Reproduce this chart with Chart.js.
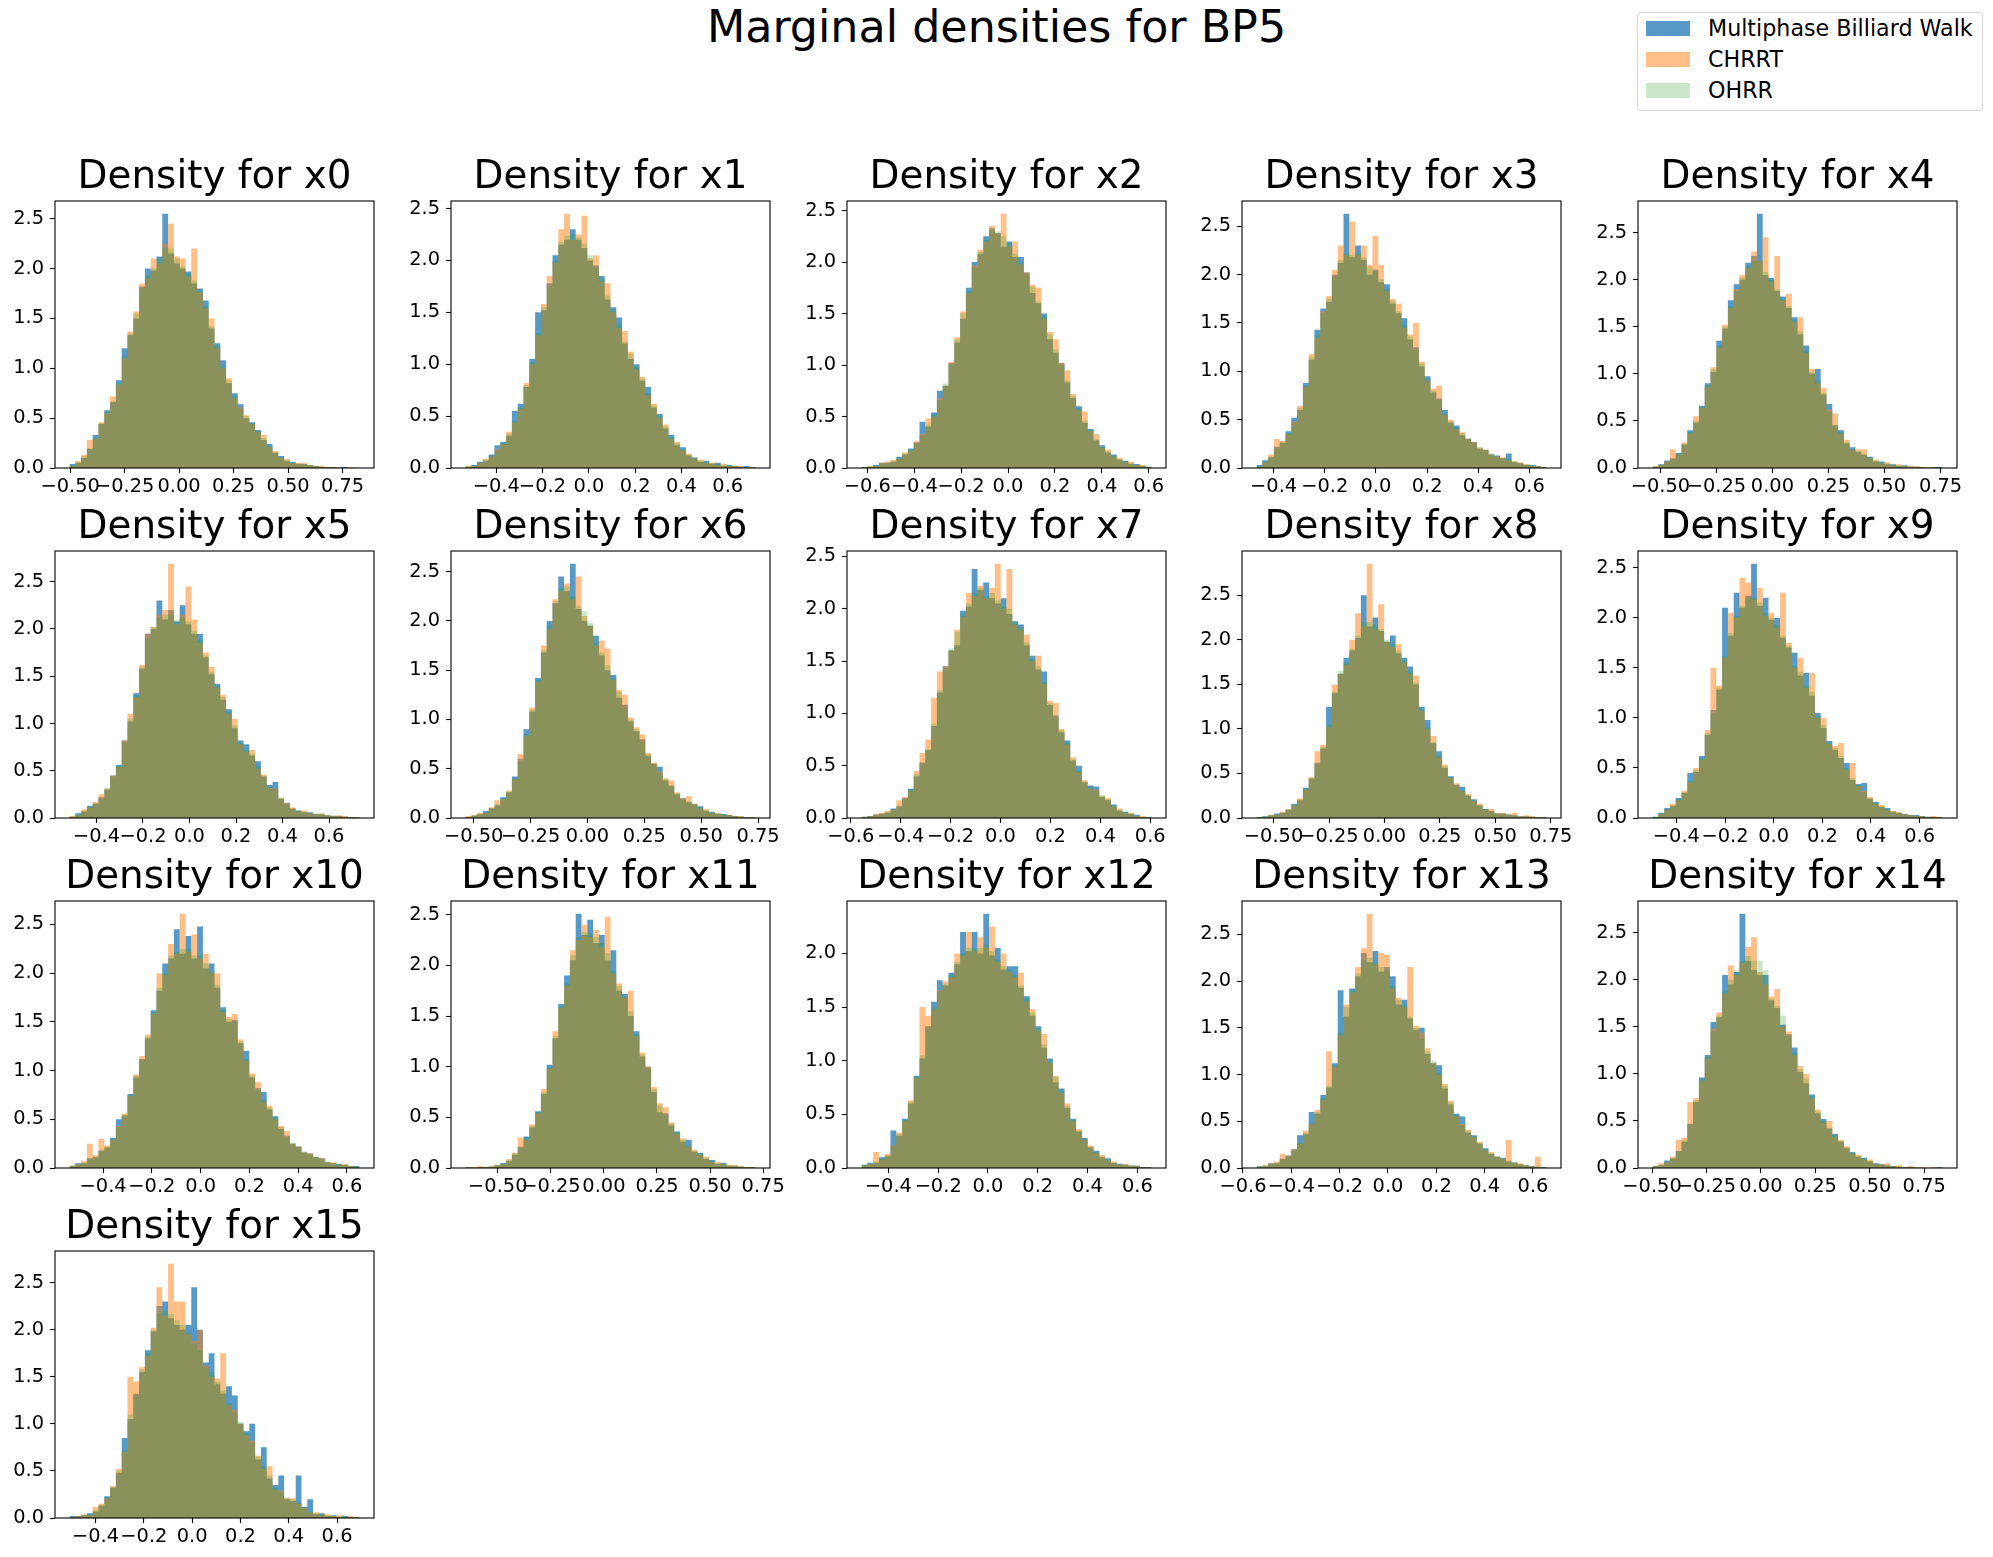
<!DOCTYPE html>
<html>
<head>
<meta charset="utf-8">
<title>Marginal densities for BP5</title>
<script src="https://cdn.jsdelivr.net/npm/chart.js@4.4.1/dist/chart.umd.min.js"></script>
<style>
  html, body { margin: 0; padding: 0; background: #fff; }
  body { position: relative; width: 1993px; height: 1557px; overflow: hidden; font-family: "DejaVu Sans", sans-serif; color: #000; }
  #suptitle { position: absolute; left: 0; top: 5px; width: 1993px; text-align: center; font-size: 44.4px; line-height: 44px; white-space: nowrap; }
  .panel { position: absolute; }
  #legend { position: absolute; left: 1637px; top: 12px; width: 344px; height: 97px; border: 1px solid #d5d5d5; border-radius: 4px; background: rgba(255,255,255,0.8); }
  .swatch { position: absolute; left: 8px; width: 44px; height: 15px; }
  .label { position: absolute; left: 70px; font-size: 22.2px; line-height: 22px; white-space: nowrap; }
</style>
</head>
<body>
<div id="suptitle"></div>
<div id="legend"></div>
<script>
// ---- data ----
const figureTitle = "Marginal densities for BP5";
const seriesNames = ["Multiphase Billiard Walk", "CHRRT", "OHRR"];
const seriesColors = ["rgba(31,119,180,0.75)", "rgba(255,127,14,0.5)", "rgba(44,160,44,0.25)"];
const panelNames = ["x0","x1","x2","x3","x4","x5","x6","x7","x8","x9","x10","x11","x12","x13","x14","x15"];

// histogram range (first bin edge, last bin edge) per panel
const binLo = [-0.503,-0.533,-0.625,-0.467,-0.535,-0.516,-0.536,-0.557,-0.577,-0.498,-0.538,-0.652,-0.508,-0.544,-0.498,-0.508];
const binHi = [0.828,0.720,0.612,0.667,0.759,0.731,0.739,0.605,0.731,0.694,0.652,0.714,0.657,0.656,0.834,0.693];

// tick labels
const ticksQuarter = [-0.5,-0.25,0,0.25,0.5,0.75];
const ticksFifthA = [-0.4,-0.2,0,0.2,0.4,0.6];
const ticksFifthB = [-0.6,-0.4,-0.2,0,0.2,0.4,0.6];
const xTicks = [ticksQuarter,ticksFifthA,ticksFifthB,ticksFifthA,ticksQuarter,ticksFifthA,ticksQuarter,ticksFifthB,
                ticksQuarter,ticksFifthA,ticksFifthA,ticksQuarter,ticksFifthA,ticksFifthB,ticksQuarter,ticksFifthA];
const xTickDecimals = [2,1,1,1,2,1,2,1,2,1,1,2,1,1,2,1];
const yTicks = [0,0.5,1,1.5,2,2.5,3];

// densities: Multiphase Billiard Walk
const mbw = [
  [0.04,0.05,0.1,0.19,0.33,0.44,0.58,0.66,0.88,1.2,1.33,1.5,1.82,2.0,1.98,2.12,2.55,2.15,2.05,2.0,1.97,1.85,1.8,1.68,1.4,1.25,1.08,0.85,0.75,0.64,0.5,0.46,0.38,0.28,0.24,0.15,0.12,0.07,0.06,0.04,0.04,0.03,0.02,0.01,0.01,0.01,0,0.01,0,0],
  [0.01,0.03,0.06,0.07,0.13,0.22,0.25,0.31,0.55,0.62,0.78,1.05,1.5,1.52,1.78,2.05,2.15,2.2,2.3,2.2,2.12,2.0,1.95,1.85,1.62,1.55,1.45,1.2,1.05,1.0,0.84,0.78,0.58,0.52,0.38,0.32,0.22,0.2,0.12,0.1,0.06,0.07,0.04,0.05,0.02,0.03,0.02,0.01,0.02,0.01],
  [0.01,0.01,0.03,0.05,0.05,0.06,0.11,0.13,0.19,0.25,0.45,0.4,0.54,0.75,0.8,1.02,1.22,1.45,1.75,2.0,2.08,2.25,2.33,2.28,2.15,2.2,2.05,2.05,1.9,1.7,1.6,1.5,1.25,1.12,1.02,0.83,0.68,0.6,0.44,0.38,0.27,0.22,0.15,0.13,0.08,0.07,0.04,0.04,0.02,0.01],
  [0.03,0.08,0.11,0.22,0.26,0.38,0.52,0.6,0.88,1.12,1.43,1.65,1.72,2.0,2.12,2.63,2.18,2.3,2.15,2.0,2.05,1.92,1.9,1.7,1.6,1.55,1.33,1.25,1.05,0.95,0.78,0.72,0.6,0.47,0.44,0.34,0.3,0.27,0.2,0.19,0.14,0.13,0.1,0.15,0.06,0.05,0.03,0.03,0.02,0.01],
  [0.01,0.04,0.08,0.1,0.16,0.25,0.4,0.48,0.66,0.9,1.02,1.35,1.48,1.78,1.95,2.0,2.18,2.25,2.7,2.05,2.02,1.88,1.82,1.7,1.6,1.42,1.3,1.0,1.05,0.78,0.68,0.45,0.4,0.26,0.22,0.17,0.14,0.12,0.07,0.07,0.04,0.04,0.02,0.03,0.01,0.01,0.01,0,0.01,0.01],
  [0.01,0.05,0.07,0.13,0.15,0.22,0.3,0.45,0.56,0.82,1.02,1.32,1.58,1.95,2.0,2.3,2.1,2.2,2.08,2.25,2.05,1.95,1.95,1.7,1.52,1.42,1.25,1.15,0.95,0.82,0.78,0.66,0.6,0.44,0.35,0.38,0.2,0.16,0.1,0.08,0.06,0.06,0.04,0.04,0.03,0.02,0.02,0.01,0.01,0.01],
  [0.01,0.02,0.04,0.07,0.1,0.13,0.21,0.26,0.42,0.6,0.9,1.08,1.42,1.68,2.0,2.18,2.45,2.3,2.58,2.12,2.0,1.95,1.85,1.65,1.5,1.45,1.22,1.15,0.98,0.88,0.8,0.63,0.55,0.52,0.38,0.33,0.24,0.2,0.16,0.14,0.12,0.07,0.06,0.04,0.04,0.03,0.02,0.01,0.01,0.01],
  [0.01,0.02,0.03,0.04,0.05,0.09,0.11,0.19,0.28,0.4,0.53,0.65,0.88,1.2,1.45,1.6,1.65,1.98,2.02,2.38,2.18,2.25,2.1,2.05,2.1,1.95,1.88,1.85,1.65,1.55,1.42,1.4,1.08,0.98,0.82,0.74,0.55,0.5,0.34,0.31,0.3,0.2,0.17,0.13,0.07,0.06,0.04,0.03,0.01,0.01],
  [0.01,0.02,0.03,0.05,0.06,0.09,0.16,0.2,0.34,0.44,0.62,0.78,1.25,1.4,1.62,1.8,1.88,2.02,2.5,2.15,2.25,2.1,1.98,2.05,1.85,1.8,1.7,1.5,1.25,1.1,0.84,0.75,0.56,0.47,0.37,0.35,0.25,0.21,0.14,0.1,0.08,0.05,0.05,0.04,0.03,0.02,0.02,0.01,0.01,0.01],
  [0.01,0.05,0.1,0.12,0.2,0.25,0.45,0.46,0.62,0.83,1.08,1.28,2.1,1.82,2.25,2.1,2.22,2.54,2.12,2.2,1.98,2.0,1.8,1.7,1.65,1.42,1.45,1.22,1.05,0.9,0.77,0.68,0.6,0.55,0.38,0.34,0.35,0.19,0.16,0.11,0.1,0.06,0.05,0.04,0.03,0.03,0.02,0.01,0.01,0.01],
  [0.02,0.05,0.05,0.1,0.11,0.18,0.21,0.31,0.5,0.54,0.76,0.93,1.12,1.33,1.62,1.82,2.1,2.15,2.45,2.2,2.38,2.15,2.48,2.05,2.1,1.85,1.65,1.5,1.52,1.28,1.2,0.93,0.82,0.78,0.6,0.53,0.4,0.33,0.25,0.22,0.16,0.15,0.11,0.1,0.06,0.05,0.04,0.03,0.02,0.02],
  [0.01,0,0.01,0.01,0.01,0.03,0.05,0.07,0.13,0.21,0.31,0.4,0.56,0.73,1.02,1.28,1.62,1.9,2.05,2.51,2.3,2.45,2.22,2.3,2.05,2.15,1.75,1.72,1.5,1.35,1.1,1.0,0.75,0.55,0.54,0.42,0.36,0.26,0.28,0.16,0.15,0.09,0.08,0.04,0.05,0.02,0.02,0.01,0.01,0.01],
  [0.03,0.05,0.05,0.1,0.11,0.35,0.3,0.46,0.6,0.86,1.02,1.32,1.55,1.75,1.7,1.82,1.9,2.2,2.02,2.2,2.0,2.37,1.98,2.05,1.85,1.88,1.88,1.68,1.6,1.42,1.32,1.12,1.02,0.8,0.74,0.56,0.46,0.34,0.28,0.19,0.16,0.1,0.09,0.05,0.04,0.03,0.02,0.02,0.01,0.01],
  [0.02,0.02,0.05,0.05,0.1,0.13,0.2,0.35,0.36,0.6,0.58,0.78,0.86,1.12,1.9,1.62,1.92,2.05,2.3,2.2,2.32,2.1,2.15,2.05,1.75,1.8,1.6,1.48,1.5,1.22,1.12,1.1,0.85,0.68,0.58,0.55,0.38,0.35,0.26,0.21,0.15,0.12,0.11,0.07,0.06,0.04,0.03,0.02,0.01,0.01],
  [0.02,0.03,0.08,0.1,0.18,0.28,0.47,0.7,0.96,1.2,1.55,1.6,2.05,1.95,2.08,2.7,2.2,2.1,2.05,2.05,1.78,1.7,1.52,1.42,1.28,1.02,0.9,0.78,0.58,0.52,0.42,0.36,0.28,0.21,0.17,0.12,0.11,0.07,0.05,0.04,0.03,0.02,0.01,0.01,0.01,0,0,0,0,0.01],
  [0.02,0.02,0.03,0.05,0.07,0.13,0.23,0.32,0.48,0.85,1.05,1.32,1.55,1.78,1.98,2.25,2.3,2.12,2.05,2.0,2.05,2.45,2.0,1.65,1.75,1.42,1.32,1.4,1.3,1.0,0.92,1.0,0.62,0.75,0.42,0.35,0.45,0.2,0.18,0.45,0.12,0.2,0.04,0.05,0.02,0.03,0.01,0.02,0.01,0.01]
];

// densities: CHRRT
const chrrt = [
  [0.02,0.07,0.13,0.28,0.29,0.46,0.55,0.72,0.84,1.1,1.37,1.57,1.85,1.9,2.1,2.05,2.25,2.45,2.12,2.1,1.92,2.2,1.76,1.6,1.5,1.2,1.0,0.9,0.7,0.61,0.53,0.44,0.36,0.33,0.21,0.17,0.1,0.09,0.05,0.05,0.05,0.03,0.02,0.02,0.01,0.01,0.01,0,0.01,0],
  [0.02,0.02,0.05,0.09,0.11,0.18,0.23,0.35,0.44,0.57,0.82,1.0,1.28,1.58,1.85,1.98,2.3,2.45,2.2,2.25,2.43,2.02,2.05,1.8,1.78,1.5,1.35,1.32,1.12,0.95,0.88,0.7,0.62,0.48,0.42,0.28,0.25,0.17,0.14,0.09,0.08,0.05,0.05,0.03,0.04,0.02,0.02,0.02,0.01,0.01],
  [0.01,0.02,0.02,0.05,0.06,0.08,0.09,0.15,0.17,0.26,0.33,0.48,0.5,0.68,0.8,1.03,1.27,1.52,1.7,1.97,2.12,2.2,2.35,2.28,2.47,2.15,2.2,1.98,1.9,1.78,1.75,1.45,1.32,1.25,1.02,0.95,0.72,0.56,0.55,0.36,0.33,0.2,0.18,0.11,0.1,0.06,0.06,0.03,0.03,0.01],
  [0.01,0.06,0.14,0.3,0.28,0.35,0.48,0.64,0.84,1.18,1.35,1.62,1.78,2.05,2.3,2.2,2.55,2.2,2.3,2.1,2.4,2.1,1.83,1.75,1.7,1.45,1.38,1.5,1.1,0.9,0.82,0.85,0.55,0.5,0.4,0.37,0.3,0.27,0.21,0.19,0.14,0.12,0.11,0.08,0.07,0.06,0.04,0.02,0.02,0.01],
  [0.02,0.03,0.07,0.2,0.14,0.27,0.37,0.55,0.64,0.86,1.07,1.28,1.52,1.7,1.9,2.05,2.12,2.3,2.2,2.45,1.98,2.25,1.78,1.85,1.55,1.6,1.22,1.05,0.9,0.85,0.62,0.58,0.36,0.3,0.19,0.2,0.2,0.1,0.09,0.05,0.06,0.03,0.04,0.02,0.02,0.02,0.01,0.01,0.01,0],
  [0.02,0.03,0.09,0.11,0.17,0.25,0.31,0.45,0.54,0.82,1.1,1.28,1.62,1.95,2.02,2.15,2.2,2.69,2.05,2.15,2.45,2.1,1.85,1.75,1.6,1.38,1.3,1.1,1.05,0.78,0.7,0.72,0.52,0.46,0.32,0.31,0.21,0.16,0.11,0.07,0.08,0.05,0.04,0.05,0.03,0.02,0.03,0.02,0.01,0.01],
  [0.02,0.03,0.05,0.05,0.11,0.18,0.19,0.28,0.39,0.65,0.83,1.12,1.38,1.75,1.92,2.22,2.3,2.38,2.22,2.45,2.05,1.95,1.75,1.8,1.72,1.4,1.3,1.25,1.02,0.92,0.85,0.66,0.56,0.47,0.4,0.38,0.26,0.2,0.22,0.14,0.1,0.09,0.05,0.05,0.03,0.03,0.02,0.02,0.01,0.01],
  [0.01,0.02,0.04,0.05,0.07,0.08,0.17,0.2,0.26,0.45,0.62,0.75,1.15,1.4,1.45,1.6,1.8,1.92,2.15,2.12,2.22,2.1,2.2,2.43,2.0,2.38,1.85,1.8,1.75,1.5,1.55,1.28,1.12,1.1,0.85,0.7,0.58,0.44,0.36,0.28,0.27,0.21,0.19,0.11,0.09,0.05,0.05,0.02,0.02,0.01],
  [0.01,0.01,0.03,0.04,0.07,0.1,0.14,0.22,0.32,0.46,0.75,0.82,1.02,1.5,1.62,1.72,2.0,2.3,2.15,2.855,2.12,2.4,1.98,1.92,1.95,1.75,1.62,1.6,1.2,1.0,0.92,0.68,0.6,0.45,0.39,0.3,0.27,0.19,0.16,0.09,0.1,0.05,0.06,0.04,0.06,0.02,0.03,0.02,0.01,0.01],
  [0.01,0.04,0.08,0.14,0.18,0.27,0.36,0.5,0.58,0.88,1.5,1.32,1.6,2.05,2.0,2.4,2.35,2.18,2.3,2.02,2.05,1.9,2.25,1.75,1.5,1.6,1.3,1.45,1.0,1.0,0.74,0.72,0.75,0.48,0.55,0.32,0.27,0.21,0.14,0.13,0.08,0.07,0.06,0.04,0.03,0.02,0.02,0.01,0.02,0.01],
  [0.02,0.04,0.07,0.25,0.13,0.3,0.23,0.29,0.43,0.56,0.74,0.96,1.15,1.37,1.58,2.0,1.98,2.3,2.2,2.61,2.22,2.4,2.15,2.2,2.0,2.0,1.6,1.55,1.58,1.32,1.1,0.97,0.88,0.68,0.64,0.5,0.43,0.38,0.25,0.22,0.16,0.15,0.11,0.1,0.06,0.06,0.03,0.04,0.02,0.01],
  [0.01,0.01,0.02,0.01,0.02,0.03,0.04,0.09,0.15,0.3,0.28,0.43,0.54,0.78,0.98,1.35,1.58,1.8,2.15,2.25,2.4,2.28,2.35,2.18,2.48,1.92,1.82,1.68,1.75,1.3,1.14,1.0,0.8,0.64,0.6,0.45,0.34,0.29,0.21,0.18,0.13,0.11,0.06,0.06,0.04,0.03,0.03,0.02,0.01,0.01],
  [0.02,0.04,0.15,0.08,0.13,0.21,0.33,0.44,0.63,0.84,1.5,1.42,1.48,1.66,1.74,1.78,2.0,1.98,2.2,2.02,2.15,2.05,2.25,1.92,2.0,1.83,1.78,1.82,1.55,1.48,1.28,1.25,0.98,0.86,0.7,0.6,0.44,0.36,0.26,0.21,0.14,0.12,0.07,0.06,0.03,0.04,0.02,0.02,0.01,0.01],
  [0.01,0.03,0.05,0.07,0.15,0.13,0.2,0.26,0.4,0.47,0.62,0.73,1.25,1.08,1.42,1.75,1.88,2.15,2.35,2.72,2.18,2.3,2.28,1.92,1.82,1.72,2.15,1.52,1.45,1.28,1.12,1.0,0.9,0.72,0.55,0.47,0.41,0.33,0.28,0.19,0.17,0.12,0.1,0.3,0.06,0.05,0.03,0.02,0.12,0.01],
  [0.02,0.05,0.06,0.12,0.3,0.32,0.7,0.74,0.93,1.16,1.48,1.65,1.85,2.15,2.05,2.18,2.35,2.45,2.08,1.95,1.82,1.9,1.5,1.45,1.2,1.08,1.0,0.74,0.62,0.48,0.5,0.33,0.3,0.23,0.15,0.14,0.09,0.09,0.04,0.04,0.05,0.02,0.03,0.01,0.02,0.01,0.01,0,0.01,0],
  [0.01,0.02,0.04,0.03,0.12,0.15,0.21,0.34,0.52,0.7,1.5,1.45,1.6,1.72,2.02,2.45,2.15,2.7,2.3,2.3,1.95,1.88,2.0,1.62,1.5,1.48,1.75,1.2,1.15,1.0,0.88,0.82,0.66,0.52,0.55,0.3,0.29,0.21,0.21,0.15,0.11,0.06,0.06,0.03,0.04,0.02,0.03,0.01,0.02,0.01]
];

// densities: OHRR
const ohrr = [
  [0.03,0.06,0.12,0.2,0.3,0.45,0.57,0.67,0.85,1.12,1.35,1.55,1.8,1.93,2.0,2.1,2.2,2.2,2.1,2.02,1.95,1.88,1.78,1.62,1.42,1.22,1.02,0.88,0.72,0.6,0.52,0.45,0.37,0.3,0.22,0.16,0.11,0.08,0.06,0.05,0.04,0.03,0.02,0.015,0.01,0.01,0.005,0.005,0,0.005],
  [0.02,0.03,0.05,0.08,0.12,0.17,0.24,0.33,0.45,0.58,0.8,1.02,1.3,1.55,1.75,2.0,2.18,2.24,2.25,2.22,2.16,2.05,1.93,1.82,1.66,1.52,1.38,1.22,1.1,0.98,0.86,0.72,0.6,0.5,0.4,0.3,0.24,0.18,0.13,0.1,0.07,0.06,0.05,0.04,0.03,0.03,0.02,0.02,0.01,0.01],
  [0.01,0.02,0.03,0.04,0.05,0.07,0.1,0.14,0.18,0.24,0.32,0.42,0.52,0.66,0.82,1.0,1.25,1.5,1.72,1.95,2.1,2.22,2.3,2.3,2.25,2.18,2.08,2.0,1.88,1.76,1.62,1.48,1.3,1.15,1.0,0.85,0.7,0.58,0.46,0.37,0.28,0.21,0.16,0.12,0.09,0.07,0.05,0.03,0.02,0.02],
  [0.02,0.07,0.12,0.2,0.27,0.36,0.46,0.62,0.85,1.15,1.38,1.6,1.75,1.98,2.15,2.22,2.2,2.22,2.18,2.08,2.04,1.95,1.85,1.73,1.62,1.48,1.36,1.22,1.08,0.93,0.8,0.7,0.56,0.48,0.42,0.36,0.31,0.26,0.22,0.18,0.15,0.12,0.1,0.09,0.07,0.05,0.04,0.03,0.02,0.01],
  [0.02,0.04,0.07,0.1,0.15,0.26,0.38,0.5,0.65,0.88,1.05,1.3,1.5,1.72,1.88,2.02,2.15,2.2,2.2,2.08,2.0,1.9,1.8,1.72,1.57,1.45,1.25,1.02,0.93,0.8,0.6,0.46,0.38,0.28,0.2,0.18,0.15,0.11,0.08,0.06,0.05,0.04,0.03,0.02,0.02,0.01,0.01,0.01,0.01,0.01],
  [0.02,0.04,0.08,0.12,0.16,0.2,0.32,0.44,0.55,0.8,1.05,1.3,1.6,1.9,2.02,2.12,2.15,2.15,2.1,2.12,2.08,1.98,1.88,1.72,1.55,1.4,1.28,1.12,0.98,0.8,0.72,0.68,0.55,0.45,0.33,0.3,0.22,0.15,0.1,0.08,0.07,0.05,0.05,0.04,0.03,0.03,0.02,0.02,0.01,0.01],
  [0.01,0.03,0.04,0.06,0.1,0.14,0.2,0.27,0.4,0.58,0.85,1.1,1.4,1.7,1.95,2.2,2.33,2.35,2.25,2.15,2.1,1.98,1.78,1.68,1.55,1.42,1.28,1.12,1.0,0.9,0.77,0.65,0.55,0.46,0.4,0.32,0.25,0.19,0.17,0.15,0.11,0.08,0.06,0.05,0.04,0.03,0.02,0.02,0.01,0.01],
  [0.02,0.02,0.03,0.04,0.06,0.08,0.12,0.18,0.27,0.42,0.52,0.66,0.9,1.22,1.42,1.62,1.78,1.95,2.05,2.15,2.2,2.12,2.15,2.08,2.02,2.0,1.87,1.82,1.68,1.52,1.45,1.3,1.1,0.96,0.84,0.72,0.56,0.45,0.35,0.3,0.26,0.22,0.18,0.12,0.08,0.06,0.04,0.02,0.01,0.01],
  [0.01,0.02,0.03,0.04,0.06,0.1,0.15,0.21,0.33,0.45,0.6,0.8,1.05,1.42,1.65,1.75,1.9,2.05,2.2,2.2,2.17,2.12,2.0,1.95,1.88,1.78,1.65,1.52,1.22,1.02,0.85,0.7,0.58,0.46,0.38,0.31,0.26,0.2,0.15,0.1,0.07,0.06,0.05,0.04,0.03,0.02,0.02,0.02,0.01,0.01],
  [0.02,0.05,0.09,0.13,0.19,0.26,0.37,0.48,0.6,0.85,1.05,1.3,1.62,1.85,2.02,2.12,2.2,2.2,2.15,2.05,2.0,1.93,1.82,1.72,1.52,1.46,1.32,1.26,1.02,0.93,0.75,0.7,0.62,0.5,0.4,0.33,0.26,0.2,0.15,0.12,0.09,0.07,0.05,0.04,0.03,0.02,0.02,0.02,0.01,0.01],
  [0.03,0.04,0.06,0.09,0.12,0.17,0.22,0.3,0.42,0.55,0.75,0.95,1.1,1.35,1.6,1.85,2.0,2.18,2.22,2.25,2.25,2.18,2.18,2.1,2.02,1.88,1.62,1.53,1.5,1.3,1.12,0.95,0.8,0.7,0.62,0.52,0.42,0.32,0.26,0.21,0.17,0.14,0.12,0.09,0.07,0.05,0.04,0.03,0.02,0.02],
  [0.01,0.01,0.01,0.01,0.02,0.02,0.04,0.08,0.14,0.2,0.3,0.42,0.55,0.75,1.0,1.3,1.6,1.82,2.1,2.28,2.33,2.32,2.28,2.22,2.12,1.95,1.8,1.7,1.55,1.32,1.12,0.98,0.78,0.62,0.52,0.44,0.35,0.28,0.22,0.17,0.14,0.1,0.07,0.05,0.04,0.03,0.02,0.02,0.01,0.01],
  [0.03,0.04,0.06,0.09,0.12,0.2,0.32,0.45,0.62,0.85,1.05,1.3,1.5,1.65,1.72,1.8,1.92,2.0,2.05,2.05,2.05,2.08,2.02,1.94,1.88,1.85,1.8,1.7,1.58,1.45,1.3,1.15,1.0,0.85,0.72,0.58,0.45,0.35,0.27,0.2,0.15,0.11,0.08,0.05,0.04,0.03,0.03,0.02,0.01,0.01],
  [0.02,0.03,0.04,0.06,0.09,0.14,0.19,0.27,0.38,0.48,0.6,0.75,0.88,1.1,1.45,1.72,1.9,2.08,2.22,2.25,2.2,2.15,2.12,1.95,1.8,1.75,1.62,1.5,1.38,1.25,1.15,1.02,0.88,0.7,0.57,0.46,0.4,0.34,0.27,0.2,0.16,0.13,0.1,0.08,0.06,0.04,0.03,0.02,0.02,0.01],
  [0.02,0.04,0.07,0.11,0.17,0.3,0.46,0.72,0.95,1.18,1.45,1.62,1.88,2.0,2.1,2.2,2.25,2.2,2.2,2.1,1.8,1.72,1.62,1.4,1.22,1.05,0.95,0.76,0.6,0.5,0.43,0.35,0.29,0.22,0.16,0.13,0.1,0.08,0.05,0.04,0.03,0.02,0.02,0.01,0.01,0.01,0.005,0.005,0.005,0.01],
  [0.01,0.02,0.03,0.04,0.08,0.14,0.22,0.33,0.5,0.72,1.1,1.3,1.58,1.75,2.0,2.18,2.2,2.17,2.1,2.05,1.97,1.85,1.78,1.6,1.55,1.45,1.35,1.22,1.12,1.02,0.9,0.8,0.65,0.55,0.45,0.32,0.28,0.22,0.2,0.16,0.1,0.07,0.05,0.04,0.03,0.02,0.02,0.02,0.01,0.01]
];

// ---- layout (pixels of the 1993x1557 figure) ----
const axesLeft0 = 55, colStep = 395.8, axesTop0 = 201, rowStep = 350;
const axesW = 319, axesH = 267;
const padSide = 70, padTop = 56, padBottom = 40;
const tickFont = { family: "DejaVu Sans", size: 19.4 };

Chart.defaults.font.family = "DejaVu Sans";

// axes frame (all four spines)
const framePlugin = {
  id: "frame",
  afterDraw(chart) {
    const { ctx, chartArea: a } = chart;
    ctx.save();
    ctx.strokeStyle = "#000";
    ctx.lineWidth = 1.1;
    ctx.strokeRect(a.left, a.top, a.right - a.left, a.bottom - a.top);
    ctx.restore();
  }
};

// bins -> step points: value i holds from edge i to edge i+1
function histPoints(vals, lo, hi) {
  const w = (hi - lo) / vals.length;
  const pts = vals.map((v, i) => ({ x: lo + i * w, y: v }));
  pts.push({ x: hi, y: 0 });
  return pts;
}

function tickText(v, dec) {
  const s = Math.abs(v).toFixed(dec);
  return (v < -1e-9 ? "\u2212" : "") + s;
}

document.getElementById("suptitle").textContent = figureTitle;

// figure legend
const legend = document.getElementById("legend");
seriesNames.forEach((name, k) => {
  const cy = 28 + 31 * k - 13;
  const sw = document.createElement("div");
  sw.className = "swatch";
  sw.style.top = (cy - 7.5) + "px";
  sw.style.background = seriesColors[k];
  legend.appendChild(sw);
  const lb = document.createElement("div");
  lb.className = "label";
  lb.style.top = (cy - 10.6) + "px";
  lb.textContent = name;
  legend.appendChild(lb);
});

panelNames.forEach((name, p) => {
  const col = p % 5, row = Math.floor(p / 5);
  const canvas = document.createElement("canvas");
  canvas.className = "panel";
  canvas.width = axesW + 2 * padSide;
  canvas.height = padTop + axesH + padBottom;
  canvas.style.left = (Math.round(axesLeft0 + col * colStep) - padSide) + "px";
  canvas.style.top = (axesTop0 + row * rowStep - padTop) + "px";
  document.body.appendChild(canvas);

  const lo = binLo[p], hi = binHi[p], span = hi - lo;
  const series = [mbw[p], chrrt[p], ohrr[p]];
  const peak = Math.max(...series.flat());
  const yMax = peak * 1.05;
  const xMin = lo - 0.05 * span, xMax = hi + 0.05 * span;

  new Chart(canvas, {
    type: "line",
    data: {
      datasets: series.map((vals, k) => ({
        label: seriesNames[k],
        data: histPoints(vals, lo, hi),
        stepped: true,
        fill: "origin",
        backgroundColor: seriesColors[k],
        borderColor: "rgba(0,0,0,0)",
        borderWidth: 0,
        pointRadius: 0,
        order: 2 - k
      }))
    },
    options: {
      responsive: false,
      animation: false,
      events: [],
      layout: { padding: { top: 6, left: 0, right: padSide, bottom: 0 } },
      plugins: {
        legend: { display: false },
        tooltip: { enabled: false },
        title: {
          display: true,
          fullSize: false,
          text: "Density for " + name,
          color: "#000",
          font: { family: "DejaVu Sans", size: 38.9, weight: "normal", lineHeight: "46px" },
          padding: { top: 4, bottom: 0 }
        }
      },
      scales: {
        x: {
          type: "linear",
          min: xMin,
          max: xMax,
          afterBuildTicks: (s) => { s.ticks = xTicks[p].filter(v => v >= xMin && v <= xMax).map(v => ({ value: v })); },
          afterFit: (s) => { s.height = padBottom; },
          ticks: { autoSkip: false, maxRotation: 0, minRotation: 0, padding: 2, color: "#000", font: tickFont,
                   callback: (v) => tickText(v, xTickDecimals[p]) },
          grid: { drawOnChartArea: false, drawTicks: true, tickLength: 5, tickColor: "#000", tickWidth: 1.1 },
          border: { display: false }
        },
        y: {
          type: "linear",
          min: 0,
          max: yMax,
          afterBuildTicks: (s) => { s.ticks = yTicks.filter(v => v <= yMax).map(v => ({ value: v })); },
          afterFit: (s) => { s.width = padSide; },
          ticks: { padding: 6, color: "#000", font: tickFont, callback: (v) => v.toFixed(1) },
          grid: { drawOnChartArea: false, drawTicks: true, tickLength: 5, tickColor: "#000", tickWidth: 1.1 },
          border: { display: false }
        }
      }
    },
    plugins: [framePlugin]
  });
});
</script>
</body>
</html>
